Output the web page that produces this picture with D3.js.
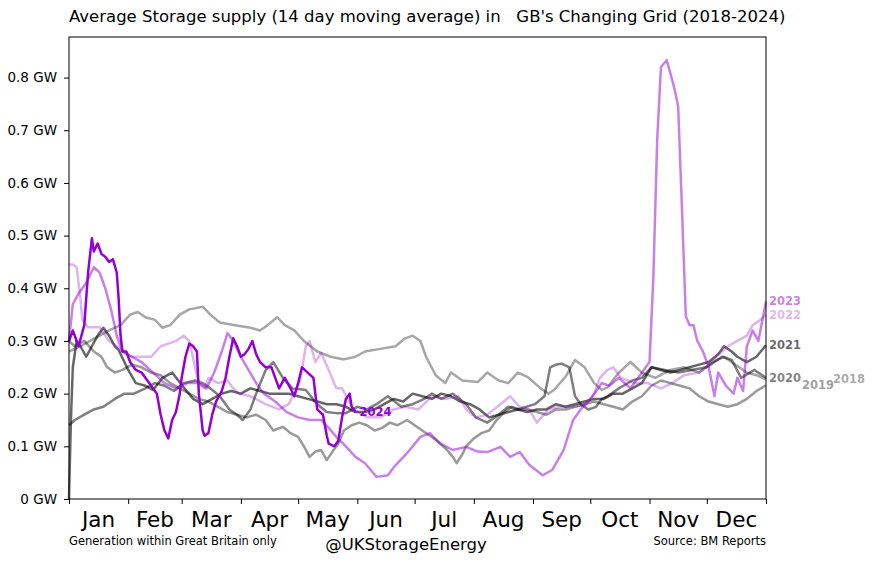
<!DOCTYPE html>
<html>
<head>
<meta charset="utf-8">
<script src="https://cdn.jsdelivr.net/npm/d3@7"></script>
<style>
  body { margin: 0; background: #fff; }
  svg { font-family: "DejaVu Sans", sans-serif; }
</style>
</head>
<body>
<div id="chart"></div>
<script>

// day-of-year, GW (14 day moving average)
var s2018 = [[0,0.28],[6,0.29],[11,0.30],[16,0.31],[21,0.32],[27,0.33],[32,0.35],[36,0.355],[40,0.345],[45,0.34],[49,0.325],[53,0.33],[58,0.35],[63,0.36],[70,0.365],[74,0.35],[79,0.335],[87,0.33],[95,0.325],[100,0.32],[104,0.33],[109,0.345],[113,0.33],[118,0.32],[123,0.30],[130,0.28],[137,0.27],[144,0.265],[150,0.27],[155,0.28],[163,0.285],[171,0.29],[176,0.305],[180,0.31],[184,0.30],[187,0.27],[192,0.235],[197,0.22],[200,0.24],[206,0.225],[214,0.222],[219,0.24],[225,0.225],[230,0.22],[235,0.24],[240,0.232],[247,0.21],[251,0.20],[254,0.207],[260,0.232],[265,0.264],[270,0.25],[275,0.22],[279,0.207],[282,0.212],[288,0.24],[294,0.26],[300,0.24],[307,0.23],[315,0.245],[322,0.25],[330,0.24],[337,0.26],[343,0.27],[349,0.255],[355,0.24],[360,0.235],[365,0.227]];

var s2019 = [[0,0.30],[3,0.29],[8,0.30],[13,0.28],[17,0.27],[20,0.25],[24,0.24],[28,0.245],[33,0.255],[38,0.25],[43,0.24],[48,0.235],[53,0.22],[58,0.21],[63,0.20],[68,0.19],[73,0.185],[78,0.175],[83,0.165],[88,0.16],[93,0.155],[98,0.16],[103,0.15],[107,0.13],[112,0.137],[116,0.125],[120,0.118],[123,0.10],[126,0.08],[129,0.09],[132,0.093],[135,0.074],[138,0.09],[141,0.105],[144,0.13],[148,0.14],[152,0.145],[156,0.14],[160,0.13],[164,0.135],[168,0.145],[172,0.14],[177,0.15],[181,0.14],[185,0.13],[189,0.12],[193,0.11],[198,0.093],[201,0.08],[203,0.068],[206,0.085],[208,0.10],[212,0.115],[216,0.125],[220,0.13],[224,0.15],[228,0.165],[232,0.175],[236,0.17],[240,0.17],[245,0.165],[250,0.16],[255,0.17],[260,0.17],[265,0.175],[270,0.18],[275,0.185],[280,0.18],[285,0.175],[290,0.17],[295,0.185],[300,0.195],[305,0.215],[310,0.225],[315,0.22],[320,0.215],[325,0.21],[330,0.195],[335,0.185],[340,0.18],[345,0.175],[350,0.18],[355,0.19],[360,0.205],[365,0.216]];

var s2020 = [[0,0.14],[3,0.15],[8,0.16],[13,0.17],[18,0.175],[24,0.19],[29,0.20],[34,0.20],[40,0.21],[45,0.22],[50,0.215],[55,0.205],[60,0.22],[66,0.225],[70,0.22],[74,0.21],[79,0.195],[84,0.17],[88,0.16],[91,0.15],[95,0.17],[98,0.20],[103,0.245],[107,0.26],[112,0.23],[117,0.21],[124,0.207],[130,0.18],[135,0.165],[140,0.163],[145,0.163],[151,0.175],[156,0.17],[161,0.18],[167,0.195],[174,0.175],[180,0.18],[186,0.19],[190,0.20],[195,0.19],[201,0.20],[208,0.18],[213,0.155],[219,0.145],[225,0.16],[230,0.175],[235,0.17],[244,0.18],[249,0.195],[252,0.25],[255,0.255],[258,0.257],[262,0.25],[265,0.195],[268,0.18],[272,0.17],[276,0.175],[279,0.19],[282,0.195],[288,0.21],[295,0.225],[300,0.23],[305,0.25],[312,0.245],[319,0.24],[326,0.245],[334,0.25],[342,0.27],[347,0.264],[352,0.23],[359,0.245],[365,0.23]];

var s2021 = [[0,0.0],[1,0.15],[2,0.25],[4,0.30],[6,0.29],[9,0.27],[12,0.29],[15,0.31],[18,0.325],[21,0.31],[24,0.29],[26,0.283],[29,0.26],[31,0.245],[35,0.22],[40,0.215],[44,0.207],[49,0.23],[54,0.24],[60,0.212],[65,0.19],[70,0.18],[75,0.19],[80,0.20],[85,0.205],[90,0.20],[95,0.21],[100,0.205],[105,0.20],[110,0.20],[115,0.20],[120,0.195],[125,0.19],[130,0.185],[135,0.18],[140,0.18],[145,0.175],[150,0.165],[155,0.165],[160,0.17],[165,0.18],[170,0.19],[175,0.185],[180,0.20],[185,0.195],[190,0.19],[195,0.20],[200,0.195],[205,0.185],[210,0.18],[215,0.17],[220,0.155],[225,0.16],[230,0.165],[235,0.17],[240,0.165],[245,0.17],[250,0.17],[255,0.18],[260,0.175],[265,0.18],[270,0.185],[275,0.19],[280,0.19],[285,0.20],[290,0.20],[295,0.21],[300,0.22],[305,0.25],[310,0.245],[315,0.24],[320,0.245],[325,0.25],[330,0.255],[335,0.26],[340,0.275],[343,0.29],[347,0.28],[350,0.27],[355,0.26],[360,0.27],[365,0.292]];

var s2022 = [[0,0.445],[2,0.445],[4,0.44],[6,0.38],[7,0.34],[10,0.326],[16,0.326],[21,0.30],[25,0.29],[28,0.28],[33,0.27],[38,0.27],[43,0.27],[48,0.29],[52,0.295],[56,0.30],[60,0.31],[63,0.30],[66,0.25],[68,0.22],[71,0.21],[73,0.23],[78,0.22],[83,0.225],[86,0.21],[89,0.20],[95,0.195],[103,0.18],[110,0.17],[115,0.18],[118,0.20],[121,0.225],[124,0.29],[126,0.30],[129,0.26],[132,0.277],[136,0.245],[140,0.21],[143,0.21],[149,0.17],[156,0.155],[163,0.155],[170,0.17],[176,0.175],[183,0.17],[190,0.195],[197,0.19],[204,0.195],[208,0.17],[213,0.155],[219,0.16],[226,0.18],[231,0.195],[236,0.175],[241,0.17],[245,0.145],[251,0.17],[257,0.175],[264,0.175],[271,0.18],[275,0.20],[278,0.23],[282,0.245],[285,0.25],[289,0.23],[296,0.22],[303,0.22],[310,0.21],[316,0.22],[322,0.235],[330,0.24],[335,0.255],[339,0.27],[345,0.29],[350,0.30],[355,0.31],[358,0.33],[362,0.34],[365,0.35]];

var s2023 = [[0,0.30],[2,0.37],[5,0.39],[9,0.41],[13,0.44],[16,0.43],[19,0.40],[22,0.36],[25,0.31],[28,0.28],[33,0.27],[38,0.26],[44,0.24],[50,0.22],[56,0.21],[62,0.22],[68,0.22],[72,0.21],[76,0.24],[80,0.28],[83,0.315],[86,0.30],[90,0.27],[94,0.245],[98,0.22],[102,0.20],[108,0.185],[114,0.165],[120,0.155],[126,0.15],[132,0.15],[136,0.135],[140,0.118],[145,0.10],[150,0.08],[155,0.068],[161,0.042],[167,0.045],[170,0.06],[177,0.087],[184,0.118],[189,0.125],[194,0.106],[201,0.093],[208,0.099],[214,0.09],[219,0.089],[226,0.099],[231,0.08],[236,0.089],[241,0.065],[248,0.045],[253,0.055],[259,0.093],[264,0.15],[269,0.175],[274,0.194],[279,0.22],[283,0.215],[288,0.23],[294,0.21],[301,0.245],[304,0.26],[306,0.42],[308,0.68],[310,0.82],[313,0.833],[315,0.807],[317,0.78],[319,0.745],[321,0.55],[323,0.347],[325,0.33],[327,0.33],[329,0.30],[332,0.28],[335,0.25],[338,0.195],[340,0.24],[344,0.215],[348,0.20],[350,0.23],[353,0.205],[355,0.29],[358,0.32],[361,0.30],[365,0.375]];

var s2024 = [[0,0.30],[2,0.32],[5,0.29],[8,0.33],[10,0.43],[12,0.495],[13,0.47],[15,0.485],[17,0.465],[19,0.46],[21,0.45],[23,0.455],[25,0.43],[26,0.38],[27,0.31],[28,0.28],[30,0.28],[32,0.26],[35,0.245],[38,0.24],[40,0.23],[43,0.215],[46,0.20],[48,0.16],[50,0.13],[52,0.115],[54,0.15],[56,0.165],[58,0.20],[59,0.23],[61,0.27],[63,0.295],[65,0.29],[67,0.28],[68,0.20],[70,0.13],[71,0.12],[73,0.125],[75,0.16],[77,0.185],[80,0.205],[82,0.23],[84,0.27],[86,0.305],[88,0.29],[90,0.27],[92,0.275],[94,0.285],[96,0.30],[98,0.275],[100,0.26],[103,0.25],[106,0.25],[108,0.23],[110,0.21],[113,0.23],[116,0.21],[118,0.195],[120,0.22],[122,0.25],[125,0.24],[128,0.23],[130,0.17],[133,0.16],[135,0.12],[136,0.105],[139,0.10],[141,0.11],[143,0.155],[145,0.19],[147,0.20],[148,0.175],[150,0.165]];

var years = ["2018", "2019", "2020", "2021", "2022", "2023", "2024"];
var seriesValues = [s2018, s2019, s2020, s2021, s2022, s2023, s2024];
var yearColors = ["#000", "#000", "#000", "#000", "darkviolet", "darkviolet", "darkviolet"];
var yearAlpha = [0.35, 0.4, 0.5, 0.6, 0.3, 0.5, 1];
var labelShift = [67, 36, 3, 3, 3, 3, 4];

var months = ["Jan", "Feb", "Mar", "Apr", "May", "Jun", "Jul", "Aug", "Sep", "Oct", "Nov", "Dec"];
var monthStarts = [0, 31, 59, 90, 120, 151, 181, 212, 243, 273, 304, 334, 365];
var yTicks = [0, 0.1, 0.2, 0.3, 0.4, 0.5, 0.6, 0.7, 0.8];

var W = 872, H = 570;
var margin = {top: 37, right: 106, bottom: 71, left: 69};
var width = W - margin.left - margin.right,
	height = H - margin.top - margin.bottom;

var svg = d3.select("#chart").append("svg")
	.attr("width", W)
	.attr("height", H);

svg.append("rect").attr("width", W).attr("height", H).attr("fill", "#fff");

var g = svg.append("g")
	.attr("transform", "translate(" + margin.left + "," + margin.top + ")");

var x = d3.scaleLinear().domain([0, 365]).range([0, width]);
var y = d3.scaleLinear().domain([0, 0.877]).range([height, 0]);

// y axis
var yAxis = g.append("g")
	.call(d3.axisLeft(y).tickValues(yTicks).tickSize(5).tickPadding(7)
		.tickFormat(function (d) { return d === 0 ? "0 GW" : d.toFixed(1) + " GW"; }));
yAxis.select(".domain").remove();
yAxis.selectAll("text").attr("font-size", 13.5).attr("font-family", "DejaVu Sans").attr("fill", "#000");

// x axis: ticks at month boundaries, labels mid-month
var xAxis = g.append("g")
	.attr("transform", "translate(0," + height + ")")
	.call(d3.axisBottom(x).tickValues(monthStarts).tickSize(5).tickFormat(""));
xAxis.select(".domain").remove();

g.selectAll("text.month")
	.data(months)
	.enter().append("text")
	.attr("class", "month")
	.attr("x", function (d, i) { return x((monthStarts[i] + monthStarts[i + 1]) / 2); })
	.attr("y", height + 28)
	.attr("text-anchor", "middle")
	.attr("font-size", 21.5)
	.text(function (d) { return d; });

// lines
var line = d3.line()
	.x(function (d) { return x(d[0]); })
	.y(function (d) { return y(d[1]); });

years.forEach(function (yr, i) {
	g.append("path")
		.datum(seriesValues[i])
		.attr("fill", "none")
		.attr("stroke", yearColors[i])
		.attr("stroke-opacity", yearAlpha[i])
		.attr("stroke-width", 2.5)
		.attr("stroke-linejoin", "round")
		.attr("d", line);
});

// year labels at the end of each line
years.forEach(function (yr, i) {
	var last = seriesValues[i][seriesValues[i].length - 1];
	g.append("text")
		.attr("x", x(last[0]) + labelShift[i])
		.attr("y", y(last[1]))
		.attr("dy", "0.35em")
		.attr("font-size", 11.5)
		.attr("font-weight", "bold")
		.attr("fill", yearColors[i])
		.attr("fill-opacity", yearAlpha[i])
		.text(yr);
});

// frame
g.append("rect")
	.attr("width", width)
	.attr("height", height)
	.attr("fill", "none")
	.attr("stroke", "#000")
	.attr("stroke-width", 1);

// texts
svg.append("text")
	.attr("x", margin.left)
	.attr("y", 22)
	.attr("font-size", 16.5)
	.text("Average Storage supply (14 day moving average) in \u00a0 GB's Changing Grid (2018-2024)");

svg.append("text")
	.attr("x", margin.left)
	.attr("y", 545)
	.attr("font-size", 11.5)
	.text("Generation within Great Britain only");

svg.append("text")
	.attr("x", 406)
	.attr("y", 550)
	.attr("text-anchor", "middle")
	.attr("font-size", 16.5)
	.text("@UKStorageEnergy");

svg.append("text")
	.attr("x", margin.left + width)
	.attr("y", 545)
	.attr("text-anchor", "end")
	.attr("font-size", 11.5)
	.text("Source: BM Reports");

</script>
</body>
</html>
